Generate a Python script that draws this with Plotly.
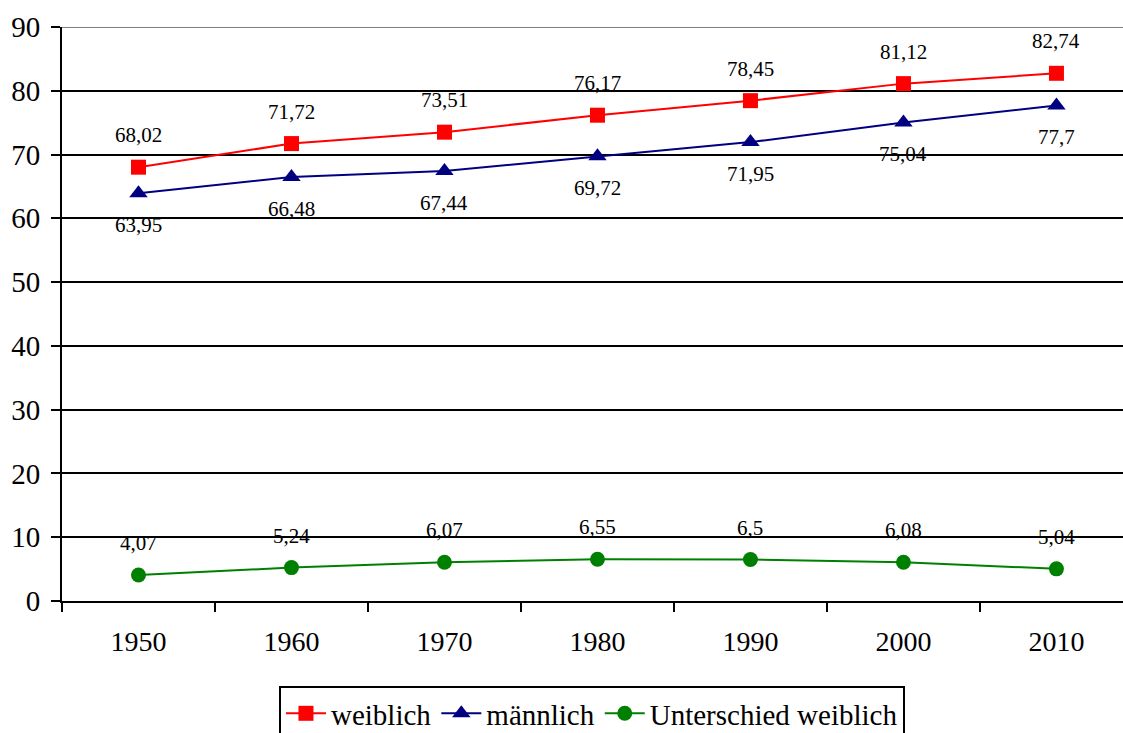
import plotly.graph_objects as go

# Lebenserwartung nach Geschlecht, 1950-2010
jahre = ["1950", "1960", "1970", "1980", "1990", "2000", "2010"]
weiblich = [68.02, 71.72, 73.51, 76.17, 78.45, 81.12, 82.74]
maennlich = [63.95, 66.48, 67.44, 69.72, 71.95, 75.04, 77.7]
unterschied = [4.07, 5.24, 6.07, 6.55, 6.5, 6.08, 5.04]

FONT = "Liberation Serif, Times New Roman, serif"

fig = go.Figure()

series = [
    ("weiblich", weiblich, "#FF0000", "square", 15, 32),
    ("männlich", maennlich, "#000080", "triangle-up", 16, -32),
    ("Unterschied weiblich", unterschied, "#008000", "circle", 15, 32),
]

annotations = []
for name, vals, color, symbol, msize, shift in series:
    fig.add_trace(go.Scatter(
        x=jahre, y=vals, name=name, mode="lines+markers",
        line=dict(color=color, width=2),
        marker=dict(symbol=symbol, size=msize, color=color, line=dict(width=0)),
    ))
    # value labels; x given as category index
    for i, v in enumerate(vals):
        annotations.append(dict(
            x=i, y=v, xref="x", yref="y", text=f"{v}".replace(".", ","),
            showarrow=False, yshift=shift,
            font=dict(family=FONT, size=21, color="#000000"),
        ))

fig.update_layout(
    width=1123, height=733,
    margin=dict(l=62, r=0, t=27, b=132, autoexpand=False),
    paper_bgcolor="white", plot_bgcolor="white",
    font=dict(family=FONT, size=28, color="#000000"),
    showlegend=True,
    legend=dict(
        orientation="h", x=0.4995, xanchor="center", y=-0.148, yanchor="top",
        bordercolor="#000000", borderwidth=2, bgcolor="white",
        font=dict(family=FONT, size=29, color="#000000"),
        itemwidth=40, tracegroupgap=0,
    ),
    annotations=annotations,
    shapes=[dict(type="line", xref="paper", yref="y", x0=0, x1=1, y0=90, y1=90,
                 line=dict(color="#808080", width=2), layer="above")],
)

fig.update_xaxes(
    type="category", range=[-0.5, 6.435],
    showgrid=False, showline=True, linecolor="#000000", linewidth=2,
    ticks="outside", tickson="boundaries", ticklen=9, tickwidth=2, tickcolor="#000000",
    ticklabelstandoff=14, tickfont=dict(family=FONT, size=28),
    zeroline=False,
)
fig.update_yaxes(
    range=[0, 90], dtick=10, tick0=0,
    showgrid=True, gridcolor="#000000", gridwidth=2,
    showline=True, linecolor="#000000", linewidth=2,
    ticks="outside", ticklen=9, tickwidth=2, tickcolor="#000000",
    ticklabelstandoff=5, tickfont=dict(family=FONT, size=29),
    zeroline=False,
)

fig.write_html("out.html")
